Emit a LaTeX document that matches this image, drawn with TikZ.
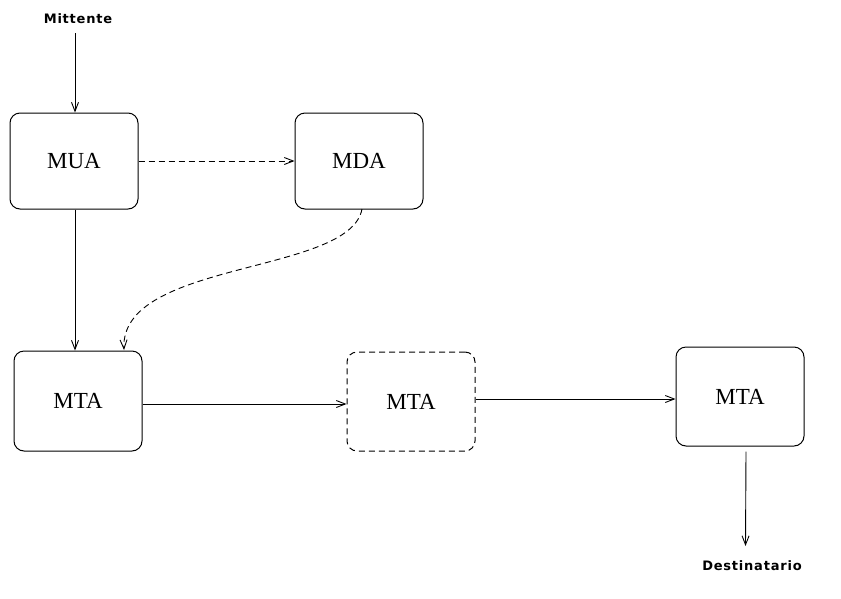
\documentclass[tikz,border=0pt]{standalone}
\usepackage{fontspec}
\setmainfont{Liberation Serif}
\newfontfamily\labelfont[LetterSpace=6]{DejaVu Sans Bold}
\usetikzlibrary{arrows.meta}
\begin{document}
\begin{tikzpicture}[x=1pt,y=-1pt,
  agent/.style={draw, line width=1pt, rounded corners=10pt, minimum width=128pt,
    minimum height=96pt, inner sep=0pt, font=\fontsize{23}{26}\selectfont},
  ghost/.style={agent, dash pattern=on 6pt off 4pt},
  endlabel/.style={font=\labelfont\fontsize{13}{16}\selectfont, inner sep=1pt},
  flow/.style={line width=0.9pt, -{Straight Barb[length=9pt,width=7pt,line width=0.9pt]}},
  dflow/.style={flow, dash pattern=on 6pt off 4pt}]
\useasboundingbox (0,0) rectangle (841,598);

\node[endlabel] (snd) at (78,19) {Mittente};
\node[agent] (mua) at (74,161) {MUA};
\node[agent] (mda) at (359,161) {MDA};
\node[agent, minimum height=100pt] (mta1) at (78,401) {MTA};
\node[ghost, minimum height=99pt] (mta2) at (411,401.5) {MTA};
\node[agent, minimum height=99pt] (mta3) at (740,396.5) {MTA};
\node[endlabel] (rcv) at (752,566) {Destinatario};

\coordinate (sndtip) at (75,33);
\draw[flow] (sndtip) -- (mua.north -| sndtip);
\draw[dflow] (mua.east) -- (mda.west);
\draw[flow] (mua.south -| sndtip) -- (mta1.north -| sndtip);
\coordinate (mdaout) at (362,209);
\coordinate (mtain) at (124,350);
\draw[dflow] (mdaout) .. controls (350,275) and (120,260) .. (mtain);
\coordinate (row1) at (0,404);
\draw[flow] (mta1.east |- row1) -- (mta2.west |- row1);
\coordinate (row2) at (0,399);
\draw[flow] (mta2.east |- row2) -- (mta3.west |- row2);
\coordinate (col3) at (746,0);
\draw[flow] (mta3.south -| col3) ++(0,5) coordinate (dst0) -- (745.5,546);
\end{tikzpicture}
\end{document}
